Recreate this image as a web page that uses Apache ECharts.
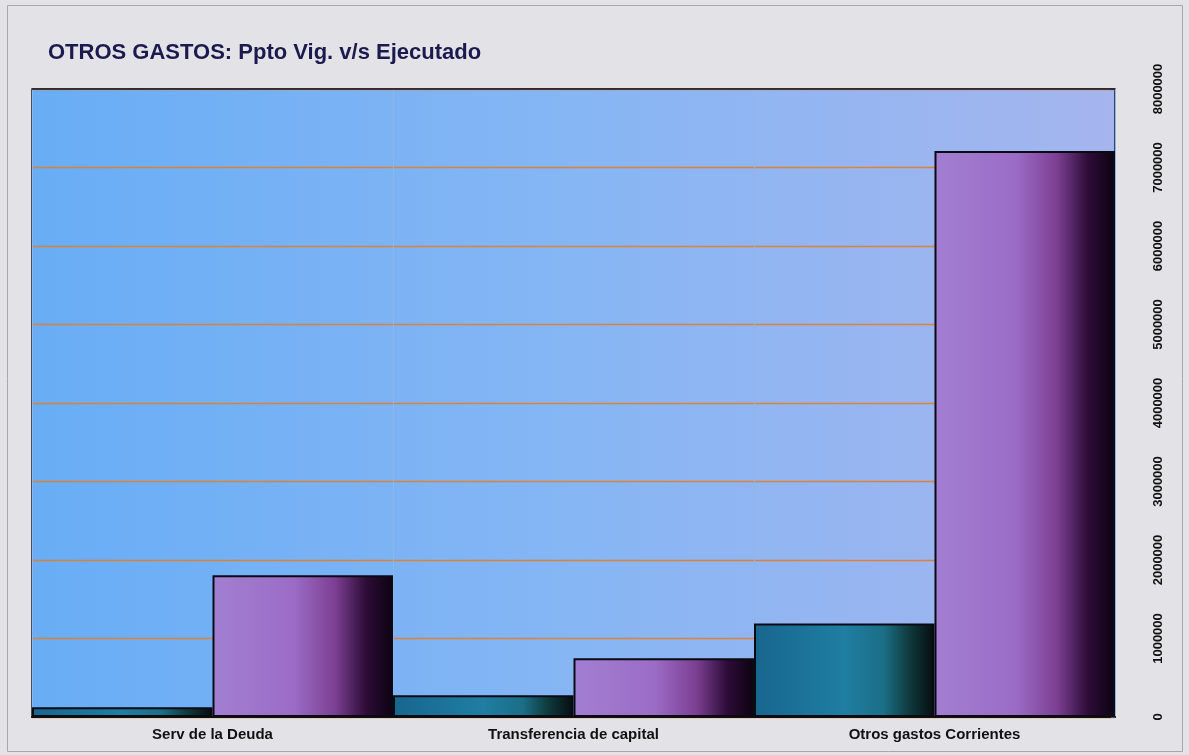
<!DOCTYPE html>
<html>
<head>
<meta charset="utf-8">
<script src="https://cdn.jsdelivr.net/npm/echarts@6/dist/echarts.min.js"></script>
<style>
html,body{margin:0;padding:0;background:#e3e3e7;}
#chart{width:1189px;height:755px;}
</style>
</head>
<body>
<div id="chart"></div>
<script>
const titleText = 'OTROS GASTOS: Ppto Vig. v/s Ejecutado';
const categories = ['Serv de la Deuda', 'Transferencia de capital', 'Otros gastos Corrientes'];
const pptoVigente = [125000, 276000, 1190000];
const ejecutado = [1805000, 748000, 7210000];
const yMin = 0, yMax = 8000000, yStep = 1000000;

const chart = echarts.init(document.getElementById('chart'));
const G = echarts.graphic.LinearGradient;
const tealFill = new G(0, 0, 1, 0, [
  {offset: 0, color: '#17668e'},
  {offset: 0.5, color: '#1f7ea2'},
  {offset: 0.72, color: '#1b6e86'},
  {offset: 0.86, color: '#0f3a3c'},
  {offset: 1, color: '#050c10'}
]);
const purpleFill = new G(0, 0, 1, 0, [
  {offset: 0, color: '#a27fd2'},
  {offset: 0.45, color: '#9b6cc6'},
  {offset: 0.68, color: '#7c3f92'},
  {offset: 0.85, color: '#2e0c38'},
  {offset: 1, color: '#0c0210'}
]);

chart.setOption({
  backgroundColor: '#e3e3e7',
  animation: false,
  graphic: [
    {type: 'rect', shape: {x: 7.5, y: 5.5, width: 1175, height: 746},
     style: {fill: 'none', stroke: '#a8a8ac', lineWidth: 1}, z: -1},
    {type: 'rect', shape: {x: 32, y: 89, width: 1083, height: 628},
     style: {fill: new G(0, 0, 1, 0, [
       {offset: 0, color: '#68adf5'},
       {offset: 0.5, color: '#86b6f4'},
       {offset: 1, color: '#a5b5ee'}
     ])}, z: -1},
    {type: 'line', shape: {x1: 32, y1: 89, x2: 1115, y2: 89},
     style: {stroke: '#1a1a2a', lineWidth: 1.5}, z: 10}
  ],
  title: {
    text: titleText, left: 43, top: 37,
    textStyle: {fontFamily: 'Liberation Sans', fontWeight: 'bold', fontSize: 22, color: '#1b1a4e'}
  },
  grid: {left: 32, right: 74, top: 89, bottom: 38, show: true, borderColor: '#1a1a2a', borderWidth: 1.5, backgroundColor: 'transparent'},
  xAxis: {
    type: 'category', data: categories,
    axisLine: {show: true, lineStyle: {color: '#111', width: 2}},
    axisTick: {show: false},
    splitLine: {show: true, lineStyle: {color: '#8fb4e8', width: 1}},
    axisLabel: {margin: 10, fontFamily: 'Liberation Sans', fontWeight: 'bold', fontSize: 15, color: '#111'}
  },
  yAxis: {
    type: 'value', position: 'right', min: yMin, max: yMax, interval: yStep,
    axisLine: {show: false},
    axisTick: {show: true, inside: true, length: 4, lineStyle: {color: '#555'}},
    splitLine: {show: true, lineStyle: {color: '#d9823a', width: 1.4}},
    axisLabel: {rotate: 90, margin: 37, fontFamily: 'Liberation Sans', fontWeight: 'bold', fontSize: 13, color: '#111',
      formatter: function (v) { return String(v); }}
  },
  series: [
    {name: 'Ppto Vigente', type: 'bar', data: pptoVigente, barGap: '0%', barCategoryGap: '0%',
     itemStyle: {color: tealFill, borderColor: '#0a0a14', borderWidth: 2}},
    {name: 'Ejecutado', type: 'bar', data: ejecutado,
     itemStyle: {color: purpleFill, borderColor: '#0a0a14', borderWidth: 2}}
  ]
});
</script>
</body>
</html>
